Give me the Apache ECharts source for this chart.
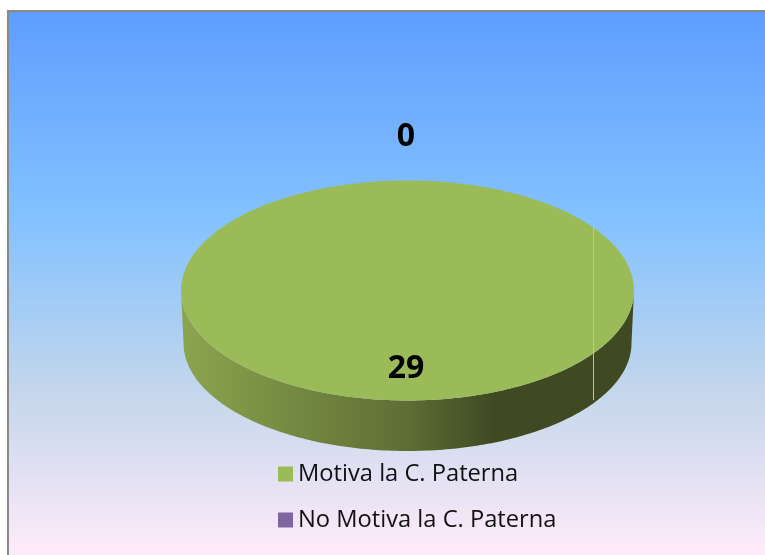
<!DOCTYPE html>
<html>
<head>
<meta charset="utf-8">
<style>html,body{margin:0;padding:0;background:#fff}#c{width:765px;height:555px}</style>
<script src="https://cdn.jsdelivr.net/npm/echarts@6/dist/echarts.min.js"></script>
</head>
<body>
<div id="c"></div>
<script>
const categories = ['Motiva la C. Paterna', 'No Motiva la C. Paterna'];
const values = [29, 0];
const sliceColors = ['#9bbb59', '#8064a2'];
const firstSliceAngle = 55;

const top3d = {cx: 407.5, cy: 290.5, rx: 226.5, ry: 110};
const bottom3d = {cx: 407.5, cy: 343, rx: 224, ry: 108};
const labelOffsets = [{dx: -1.5, dy: 78}, {dx: -1.5, dy: -154}];
const slitDepth = 46.5;

const total = values.reduce((a, b) => a + b, 0);
const pt = (e, deg) => {
  const r = deg * Math.PI / 180;
  return [e.cx + e.rx * Math.sin(r), e.cy - e.ry * Math.cos(r)];
};
const range = (a, b, step) => {
  const out = [];
  for (let d = a; d < b; d += step) out.push(d);
  out.push(b);
  return out;
};
const sliceStart = i => firstSliceAngle + values.slice(0, i).reduce((a, b) => a + b, 0) / total * 360;

function makeRender(i) {
  return function (params, api) {
    const v = api.value(0);
    const a0 = sliceStart(i);
    const a1 = a0 + v / total * 360;
    const children = [];
    if (v > 0) {
      const f0 = Math.max(a0, 90), f1 = Math.min(a1, 270);
      if (f1 > f0) {
        const angles = range(f0, f1, 1);
        const pts = angles.map(d => pt(top3d, d)).concat(angles.slice().reverse().map(d => pt(bottom3d, d)));
        children.push({
          type: 'polygon',
          shape: {points: pts},
          style: {
            fill: new echarts.graphic.LinearGradient(bottom3d.cx - bottom3d.rx, 0, bottom3d.cx + bottom3d.rx, 0, [
              {offset: 0, color: '#8ba44e'},
              {offset: 0.5, color: '#5d6e34'},
              {offset: 0.69, color: '#3f4a23'},
              {offset: 1, color: '#3f4a23'}
            ], true)
          }
        });
      }
      const topPts = [[top3d.cx, top3d.cy]].concat(range(a0, a1, 1).map(d => pt(top3d, d)));
      children.push({type: 'polygon', shape: {points: topPts}, style: {fill: sliceColors[i]}});
    } else {
      const p = pt(top3d, a0);
      const front = pt(top3d, 180 - a0);
      children.push({
        type: 'line',
        shape: {x1: Math.round(p[0]) + 0.5, y1: p[1], x2: Math.round(p[0]) + 0.5, y2: front[1] + slitDepth},
        style: {stroke: '#b4c3c8', lineWidth: 1}
      });
    }
    children.push({
      type: 'text',
      z2: 10,
      style: {
        text: String(v),
        x: top3d.cx + labelOffsets[i].dx,
        y: top3d.cy + labelOffsets[i].dy,
        align: 'center',
        verticalAlign: 'middle',
        fill: '#000',
        font: 'bold 32px "Open Sans"'
      }
    });
    return {type: 'group', children};
  };
}

const chart = echarts.init(document.getElementById('c'), null, {renderer: 'canvas'});
chart.setOption({
  animation: false,
  backgroundColor: '#ffffff',
  color: sliceColors,
  graphic: [{
    type: 'rect',
    z: -10,
    silent: true,
    shape: {x: 8, y: 11, width: 800, height: 600},
    style: {
      stroke: '#8a8a8a',
      lineWidth: 2,
      fill: new echarts.graphic.LinearGradient(0, 12, 0, 555, [
        {offset: 0, color: '#5e9eff'},
        {offset: 0.39, color: '#85c2ff'},
        {offset: 0.7, color: '#c4d6eb'},
        {offset: 1, color: '#ffebfa'}
      ], true)
    }
  }],
  legend: {
    orient: 'vertical',
    left: 278,
    top: 460,
    padding: 0,
    itemWidth: 15,
    itemHeight: 15,
    itemGap: 18,
    icon: 'rect',
    selectedMode: false,
    data: categories,
    textStyle: {fontFamily: 'Open Sans', fontSize: 23.7, color: '#111', lineHeight: 25, padding: [3, 0, 0, 0]}
  },
  series: categories.map((name, i) => ({
    type: 'custom',
    name,
    coordinateSystem: 'none',
    silent: true,
    z: i === 0 ? 2 : 3,
    itemStyle: {color: sliceColors[i]},
    renderItem: makeRender(i),
    data: [[values[i]]]
  }))
});
</script>
</body>
</html>
